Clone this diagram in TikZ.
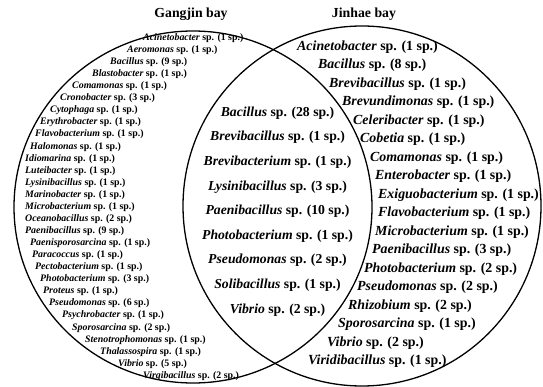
\documentclass[tikz,border=0pt]{standalone}
\usepackage{fontspec}
\setmainfont{Liberation Serif}
\usepackage{tikz}
\usetikzlibrary{positioning}
\newcommand{\spName}[2]{\textit{#1} sp. (#2 sp.)}
\tikzset{
    bay/.style = {font=\fontsize{13.8}{16}\selectfont\bfseries, inner sep=0pt},
    gangjin/.style = {font=\fontsize{9.9}{11}\selectfont\bfseries, inner sep=0pt, anchor=west},
    shared/.style = {font=\fontsize{13.7}{16}\selectfont\bfseries, inner sep=0pt},
    jinhae/.style = {font=\fontsize{13.9}{16}\selectfont\bfseries, inner sep=0pt, anchor=west},
    ring/.style = {line width=1.3pt}
}

\begin{document}
\begin{tikzpicture}[x=1pt,y=-1pt]
            \useasboundingbox (0,0) rectangle (543,387);

            % the two bays
            \coordinate (GC) at (193,207);
            \coordinate (JC) at (362,206);
            \draw[ring] (GC) ellipse [x radius=179, y radius=176];
            \draw[ring] (JC) ellipse [x radius=179, y radius=180];

            \node[bay] (Gtitle) at (191,14) {Gangjin bay};
            \node[bay] (Jtitle) at (364,14) {Jinhae bay};

            % Gangjin bay only
            \foreach \x/\g/\n [count=\i from 0] in {
                143/Acinetobacter/1, 127/Aeromonas/1, 110/Bacillus/9, 92/Blastobacter/1,
                72/Comamonas/1, 60/Cronobacter/3, 50/Cytophaga/1, 40/Erythrobacter/1,
                35/Flavobacterium/1, 30/Halomonas/1, 25/Idiomarina/1, 25/Luteibacter/1,
                25/Lysinibacillus/1, 25/Marinobacter/1, 25/Microbacterium/1, 25/Oceanobacillus/2,
                25/Paenibacillus/9, 30/Paenisporosarcina/1, 32/Paracoccus/1, 35/Pectobacterium/1,
                40/Photobacterium/3, 43/Proteus/1, 49/Pseudomonas/6, 62/Psychrobacter/1,
                72/Sporosarcina/2, 85/Stenotrophomonas/1, 100/Thalassospira/1, 118/Vibrio/5,
                143/Virgibacillus/2}{
                \node[gangjin] (g\i) at (\x,{38+12.07*\i}) {\spName{\g}{\n}};
            }

            % both bays
            \foreach \g/\n [count=\i from 0] in {
                Bacillus/28, Brevibacillus/1, Brevibacterium/1, Lysinibacillus/3,
                Paenibacillus/10, Photobacterium/1, Pseudomonas/2, Solibacillus/1, Vibrio/2}{
                \node[shared] (s\i) at (277.5,{113+24.6*\i}) {\spName{\g}{\n}};
            }

            % Jinhae bay only
            \foreach \x/\g/\n [count=\i from 0] in {
                297/Acinetobacter/1, 318/Bacillus/8, 329/Brevibacillus/1, 342/Brevundimonas/1,
                353/Celeribacter/1, 360/Cobetia/1, 370/Comamonas/1, 375/Enterobacter/1,
                378/Exiguobacterium/1, 378/Flavobacterium/1, 375/Microbacterium/1, 372/Paenibacillus/3,
                364/Photobacterium/2, 357/Pseudomonas/2, 348/Rhizobium/2, 338/Sporosarcina/1,
                327/Vibrio/2, 308/Viridibacillus/1}{
                \node[jinhae] (j\i) at (\x,{47+18.5*\i}) {\spName{\g}{\n}};
            }

        \end{tikzpicture}
\end{document}
